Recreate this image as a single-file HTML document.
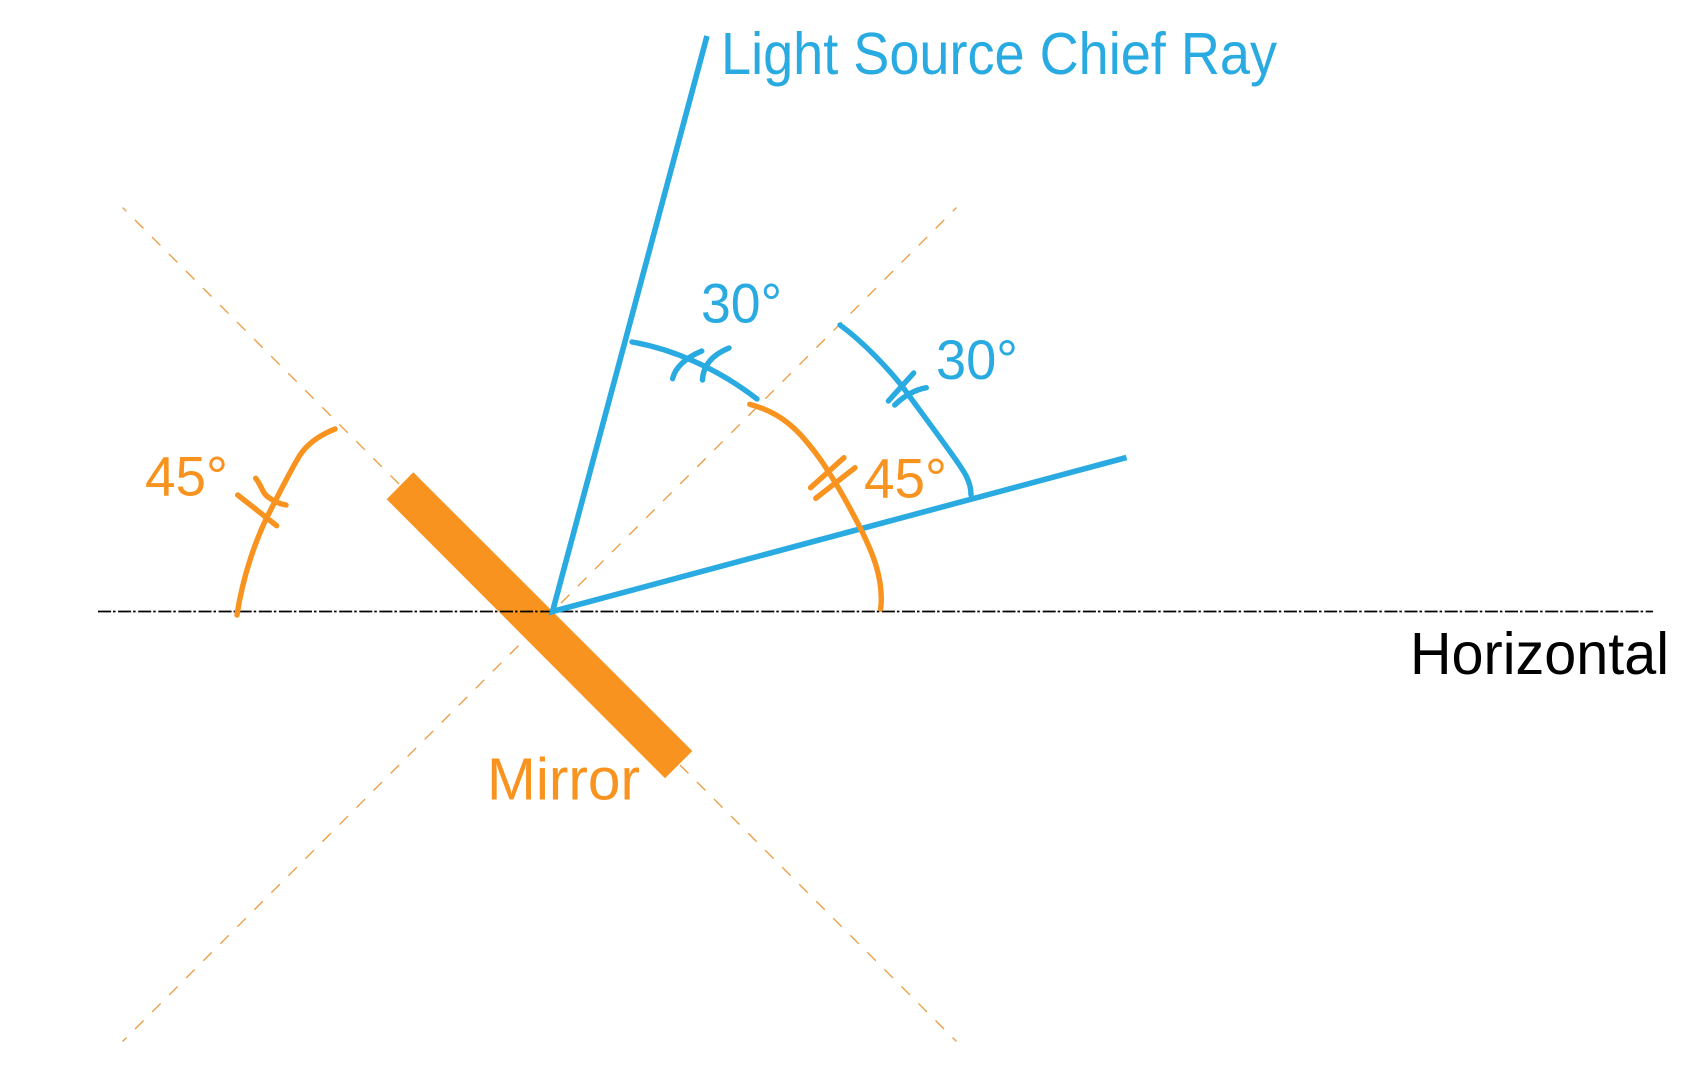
<!DOCTYPE html>
<html>
<head>
<meta charset="utf-8">
<style>
html,body{margin:0;padding:0;background:#fff}
svg{display:block}
text{font-family:"Liberation Sans",sans-serif}
</style>
</head>
<body>
<svg width="1687" height="1091" viewBox="0 0 1687 1091" xmlns="http://www.w3.org/2000/svg">
<rect width="1687" height="1091" fill="#fff"/>
<!-- dashed guide lines -->
<g stroke="#EE9A3A" stroke-width="1.3" fill="none" stroke-dasharray="12 12.09" stroke-dashoffset="6.7">
<path d="M122.6 207.6L956.5 1041.5"/>
<path d="M956.5 207.6L122.6 1041.5"/>
</g>
<!-- mirror -->
<polygon points="413.3,472.3 692.3,751 665,778.3 386.7,499.3" fill="#F7931E"/>
<!-- horizontal -->
<path d="M98 611.5H1653" stroke="#000" stroke-width="1.7" fill="none" stroke-dasharray="13 2 2.5 2.6"/>
<!-- rays -->
<g stroke="#29ABE2" stroke-width="5.6" fill="none">
<path d="M707 36L552.5 611.5L1126.5 457.5"/>
</g>
<!-- blue arcs -->
<g stroke="#29ABE2" stroke-width="5.4" fill="none" stroke-linecap="round">
<path d="M632 342C672 349 717 368 757 399"/>
<path d="M672.6 378.7C675 368 685 358 701.8 351"/>
<path d="M702.5 380C703 366 712 355 729 348"/>
<path d="M840 325C862 341 885 365 902 386C918 408 936 432 951 453C963 470 971 480 971 495"/>
<path d="M913.7 373L888.4 401"/>
<path d="M926.3 387.7C914 390 904 396 894.7 405"/>
</g>
<!-- orange arcs -->
<g stroke="#F7931E" stroke-width="5.4" fill="none" stroke-linecap="round">
<path d="M749.8 404.3C775 411 792 424 806 441C818 455 825 466 833 479C845 498 852 512 859.6 526.7C873 553 884 580 880.7 609"/>
<path d="M843.9 457.7L810.5 487.7"/>
<path d="M855 467.7L815.8 498.3"/>
<path d="M237 615C243 575 256 540 267 517C278 496 289 473 300 455C308 443 320 435 335 429"/>
<path d="M237.7 495L276.7 525.7"/>
<path d="M255.7 478.3C262 486 262 494 270 498.3C275 502 280 504 286 505"/>
</g>
<!-- labels -->
<g font-size="59">
<text x="721" y="74" fill="#29ABE2" textLength="556" lengthAdjust="spacingAndGlyphs">Light Source Chief Ray</text>
<text x="701" y="322.5" fill="#29ABE2" font-size="56" textLength="81" lengthAdjust="spacingAndGlyphs">30°</text>
<text x="936" y="379" fill="#29ABE2" font-size="56" textLength="82" lengthAdjust="spacingAndGlyphs">30°</text>
<text x="864" y="497.5" fill="#F7931E" font-size="56" textLength="83" lengthAdjust="spacingAndGlyphs">45°</text>
<text x="145" y="495.5" fill="#F7931E" font-size="56" textLength="83" lengthAdjust="spacingAndGlyphs">45°</text>
<text x="487" y="799.5" fill="#F7931E" textLength="153" lengthAdjust="spacingAndGlyphs">Mirror</text>
<text x="1410" y="674" fill="#000" textLength="259" lengthAdjust="spacingAndGlyphs">Horizontal</text>
</g>
</svg>
</body>
</html>
